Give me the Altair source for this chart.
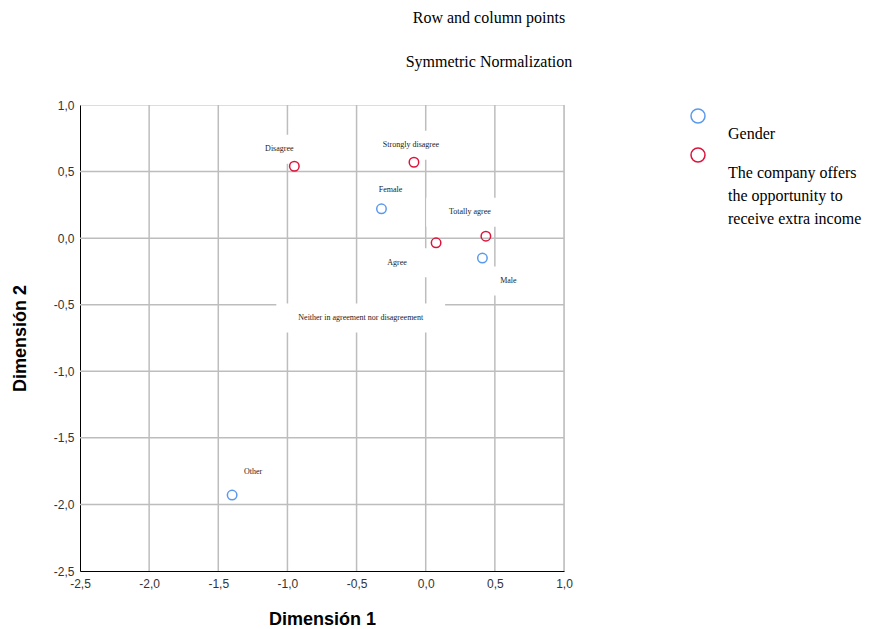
import altair as alt
import pandas as pd

# ---- data ----
categories = ["Female", "Male", "Other",
              "Strongly disagree", "Disagree",
              "Neither in agreement nor disagreement",
              "Agree", "Totally agree"]
groups = ["Gender"] * 3 + ["The company offers the opportunity to receive extra income"] * 5
dim1 = [-0.32, 0.41, -1.40, -0.085, -0.95, -0.47, 0.075, 0.435]
dim2 = [0.22, -0.15, -1.93, 0.57, 0.54, -0.60, -0.035, 0.015]
point_shown = [True, True, True, True, True, False, True, True]

tick_values = [-2.5, -2.0, -1.5, -1.0, -0.5, 0.0, 0.5, 1.0]
x_grid = [-2.0, -1.5, -1.0, -0.5, 0.0, 0.5, 1.0]
y_grid = [-2.0, -1.5, -1.0, -0.5, 0.0, 0.5]

group_names = ["Gender", "The company offers the opportunity to receive extra income"]
group_colors = ["#5a9aee", "#dc143c"]

# label offsets in pixels (styling)
label_offsets = {
    "Female": (9, -19), "Male": (26, 23), "Other": (21, -23),
    "Strongly disagree": (-3, -17), "Disagree": (-15, -17),
    "Neither in agreement nor disagreement": (0, 0),
    "Agree": (-39, 20), "Totally agree": (-16, -24),
}

df = pd.DataFrame({"category": categories, "group": groups,
                   "d1": dim1, "d2": dim2, "shown": point_shown})
gx = pd.DataFrame({"g": x_grid})
gy = pd.DataFrame({"g": y_grid})

xs = alt.Scale(domain=[-2.5, 1.0], nice=False, zero=False)
ys = alt.Scale(domain=[-2.5, 1.0], nice=False, zero=False)

lab_expr = "replace(replace(format(datum.value, '.1f'), '.', ','), '\u2212', '-')"

LDY = 10  # vertical shift applied to legend labels via guide-label style

grid_color = "#bdbdbd"
vgrid = alt.Chart(gx).mark_rule(color=grid_color, strokeWidth=1.5).encode(
    x=alt.X("g:Q", scale=xs), y=alt.datum(-2.5, scale=ys), y2=alt.datum(1.0))
hgrid = alt.Chart(gy).mark_rule(color=grid_color, strokeWidth=1.5).encode(
    y=alt.Y("g:Q", scale=ys), x=alt.datum(-2.5, scale=xs), x2=alt.datum(1.0))

points = alt.Chart(df).transform_filter("datum.shown").mark_point(
    filled=False, size=90, strokeWidth=1.5, shape="circle", opacity=1).encode(
    x=alt.X("d1:Q", scale=xs,
            axis=alt.Axis(title="Dimensión 1", values=tick_values, labelExpr=lab_expr,
                          grid=False, ticks=False, domainColor="#000", domainWidth=1,
                          labelFont="Liberation Sans", labelFontSize=12, labelColor="#333",
                          labelPadding=7 - LDY, titleFont="Liberation Sans", titleFontSize=18,
                          titleFontWeight="bold", titleColor="#000", titlePadding=21,
                          labelFlush=False)),
    y=alt.Y("d2:Q", scale=ys,
            axis=alt.Axis(title="Dimensión 2", values=tick_values, labelExpr=lab_expr,
                          grid=False, ticks=False, domainColor="#000", domainWidth=1,
                          labelFont="Liberation Sans", labelFontSize=12, labelColor="#333",
                          labelPadding=6, labelOffset=-LDY,
                          titleFont="Liberation Sans", titleFontSize=18,
                          titleFontWeight="bold", titleColor="#000", titlePadding=24,
                          labelFlush=False)),
    color=alt.Color("group:N",
                    scale=alt.Scale(domain=group_names, range=group_colors),
                    legend=alt.Legend(
                        title=None, orient="none", legendX=610, legendY=3,
                        symbolType="circle", symbolSize=196, symbolStrokeWidth=1.5,
                        symbolFillColor="transparent",
                        labelFont="Liberation Serif", labelFontSize=16, labelColor="#000",
                        labelBaseline="top", labelOffset=22, labelLimit=400,
                        rowPadding=3, padding=0,
                        labelExpr="datum.label == 'Gender' ? 'Gender' : ['The company offers', 'the opportunity to', 'receive extra income']")),
)

box_layers = []
label_layers = []
for cat in categories:
    dx, dy = label_offsets[cat]
    cx = f"(scale('x', datum.d1) + {dx})"
    cy = f"(scale('y', datum.d2) + {dy})"
    hw = "(length(datum.category) * 1.7 + 21.5)"
    box_layers.append(
        alt.Chart(df).transform_filter(alt.datum.category == cat).mark_rect(
            color="white", opacity=1,
            x=alt.ExprRef(f"{cx} - {hw}"), x2=alt.ExprRef(f"{cx} + {hw}"),
            y=alt.ExprRef(f"{cy} - 14.5"), y2=alt.ExprRef(f"{cy} + 14.5")).encode(
            detail="category:N"))
    label_layers.append(
        alt.Chart(df).transform_filter(alt.datum.category == cat).mark_text(
            font="Liberation Serif", fontSize=8, color="#222", dx=dx, dy=dy).encode(
            x=alt.X("d1:Q", scale=xs), y=alt.Y("d2:Q", scale=ys), text="category:N"))

chart = alt.layer(vgrid, hgrid, *box_layers, points, *label_layers).properties(
    width=484, height=466,
    padding={"left": 72, "top": 97, "right": 319, "bottom": 60},
    autosize=alt.AutoSizeParams(type="none"),
    title=alt.TitleParams(text="Row and column points", subtitle="Symmetric Normalization",
                          font="Liberation Serif", fontSize=16, fontWeight="normal",
                          color="#000", subtitleFont="Liberation Serif", subtitleFontSize=16,
                          subtitleColor="#000", subtitlePadding=28, anchor="middle",
                          dx=167, offset=29),
).configure_view(stroke=None).configure(
    style={"guide-label": {"lineHeight": 23, "dy": LDY}})

chart.save("out.html", embed_options={"renderer": "svg", "actions": False})
